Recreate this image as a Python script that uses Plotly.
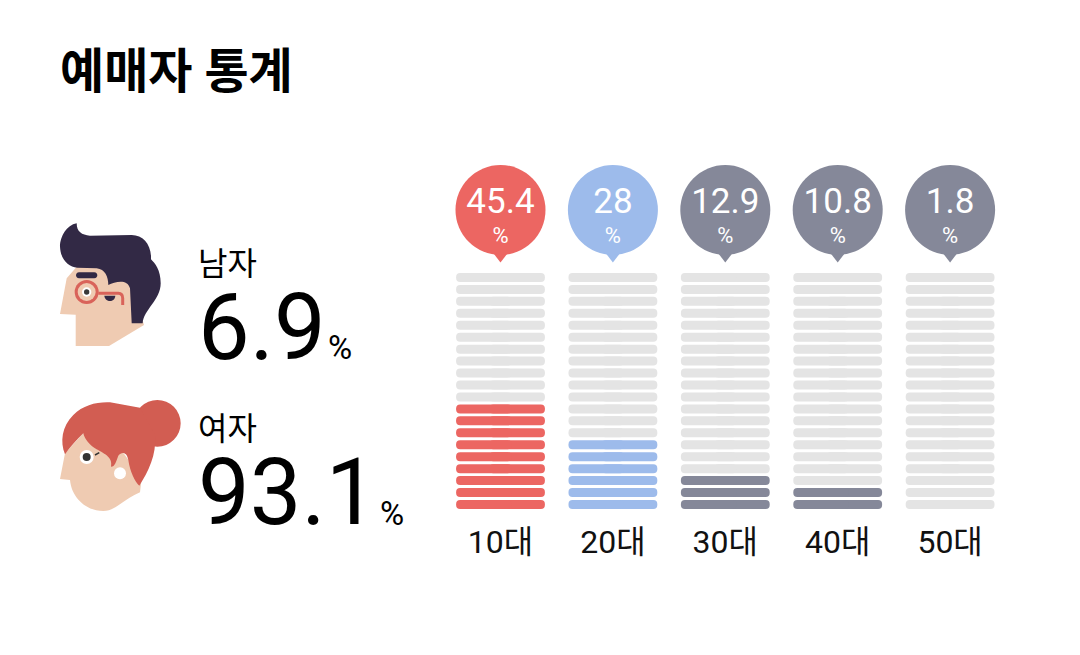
import re
import plotly.graph_objects as go

# ticket buyer stats
title = "예매자 통계"
age_groups = ["10대", "20대", "30대", "40대", "50대"]
age_share = [45.4, 28, 12.9, 10.8, 1.8]
age_colors = ["#EC6662", "#9DBBEB", "#858899", "#858899", "#858899"]
gender_labels = ["남자", "여자"]
gender_share = [6.9, 93.1]

STEP = 5  # one stripe stands for 5%
EMPTY = "#E4E4E4"
FONT = "Roboto, 'Noto Sans CJK KR', sans-serif"
ROW_PX = 11.95  # y axis scale, one stripe row in px
n = len(age_groups)
columns = list(range(n))
rows = list(range(int(100 / STEP)))


def row_at(px):
    """y axis value of a page pixel height"""
    return (504.5 - px) / ROW_PX


fig = go.Figure()

# stripes, each column = two bars that overlap in the middle so both ends get rounded
OVERLAP = 0.1
for col, share, color in zip(columns, age_share, age_colors):
    colors = [color if row < round(share / STEP) else EMPTY for row in rows]
    for sign in (1, -1):
        fig.add_trace(go.Bar(
            orientation="h",
            x=[sign * (0.395 + OVERLAP)] * len(rows),
            y=rows,
            base=[col - sign * OVERLAP] * len(rows),
            width=9 / ROW_PX,
            marker=dict(color=colors, cornerradius=4.5, line_width=0),
            hoverinfo="skip",
        ))

# balloons above the columns
fig.add_trace(go.Scatter(
    x=columns, y=[row_at(255)] * n, mode="markers",
    marker=dict(symbol="triangle-down", size=15, color=age_colors, line_width=0),
    hoverinfo="skip",
))
fig.add_trace(go.Scatter(
    x=columns, y=[row_at(210)] * n, mode="markers",
    marker=dict(size=90, color=age_colors, line_width=0),
    hoverinfo="skip",
))
fig.add_trace(go.Scatter(
    x=columns, y=[row_at(204)] * n, mode="text",
    text=[str(v) for v in age_share],
    textfont=dict(family=FONT, size=35, color="white"),
    hoverinfo="skip",
))
fig.add_trace(go.Scatter(
    x=columns, y=[row_at(237)] * n, mode="text",
    text=["%"] * n,
    textfont=dict(family=FONT, size=22, color="white"),
    hoverinfo="skip",
))


def face_path(x0, y0, d):
    """Turn a path drawn on a 3x crop into page pixels"""
    nums = iter(re.findall(r"[A-Z]|-?[\d.]+", d))
    out = []
    for tok in nums:
        if tok.isalpha():
            out.append(tok)
        else:
            out.append(f"{x0 + float(tok) / 3:.1f},{y0 + float(next(nums)) / 3:.1f}")
    return " ".join(out)


def blob(x0, y0, d, fill):
    return dict(type="path", xref="x2", yref="y2", path=face_path(x0, y0, d),
                fillcolor=fill, line_width=0, layer="above")


def stroke(x0, y0, d, color, width):
    return dict(type="path", xref="x2", yref="y2", path=face_path(x0, y0, d),
                line=dict(color=color, width=width), layer="above")


def dot(x0, y0, cx, cy, r, fill):
    return dict(type="circle", xref="x2", yref="y2",
                x0=x0 + (cx - r) / 3, x1=x0 + (cx + r) / 3,
                y0=y0 + (cy - r) / 3, y1=y0 + (cy + r) / 3,
                fillcolor=fill, line_width=0, layer="above")


SKIN = "#EFCBB2"
DARK = "#322945"
RED = "#D25D52"

shapes = [
    # man
    blob(40, 210, "M 110 170 L 80 205 L 60 312 L 107 314 L 107 408 L 207 408 L 312 345 "
                  "L 275 220 L 200 170 Z", SKIN),
    blob(40, 210, "M 110 40 C 80 45 60 80 60 110 C 62 150 85 170 112 173 L 170 175 "
                  "C 195 178 205 200 205 225 C 225 215 262 205 270 235 L 275 340 L 308 340 "
                  "C 310 300 362 270 362 220 C 362 180 345 160 333 148 C 335 105 310 75 275 75 "
                  "L 150 77 C 125 75 110 65 110 40 Z", DARK),
    blob(40, 210, "M 117 187 L 163 187 C 175 187 175 205 163 205 L 117 205 "
                  "C 105 205 105 187 117 187 Z", DARK),
    blob(40, 210, "M 193 257 L 226 257 C 225 278 195 278 193 257 Z", DARK),
    stroke(40, 210, "M 175 250 L 235 250 C 245 250 248 258 248 265 L 248 285", "#D9635A", 3),
    dot(40, 210, 140, 246, 36, "#D9635A"),
    dot(40, 210, 140, 246, 27, SKIN),
    dot(40, 210, 140, 246, 14, "white"),
    dot(40, 210, 140, 246, 8, "#3A3A3A"),
    # woman
    blob(40, 385, "M 130 145 L 75 205 L 60 282 L 90 285 C 95 340 140 378 190 378 "
                  "C 225 378 240 350 300 322 L 305 280 L 240 190 L 170 185 Z", SKIN),
    dot(40, 385, 352, 115, 70, RED),
    blob(40, 385, "M 75 208 C 60 170 65 125 100 90 C 130 60 170 50 210 52 L 300 68 L 345 150 "
                  "C 350 210 325 260 298 302 C 285 290 270 260 265 225 C 260 200 245 200 235 212 "
                  "C 228 230 225 245 213 245 C 220 215 190 205 165 190 C 150 180 135 165 130 145 "
                  "C 110 165 90 185 75 208 Z", RED),
    dot(40, 385, 140, 216, 21, "white"),
    dot(40, 385, 140, 216, 12, "#333333"),
    stroke(40, 385, "M 165 210 L 178 203", "#333333", 1.5),
    dot(40, 385, 240, 265, 18, "white"),
]

fig.update_layout(
    width=1080, height=655,
    margin=dict(l=0, r=0, t=0, b=0),
    paper_bgcolor="white", plot_bgcolor="rgba(0,0,0,0)",
    barmode="overlay", showlegend=False,
    xaxis=dict(
        domain=[444.3 / 1080, 1006.3 / 1080],
        range=[-0.5, 4.5],
        tickvals=columns, ticktext=age_groups,
        showgrid=False, showline=False, zeroline=False,
        ticks="outside", ticklen=5, tickcolor="rgba(0,0,0,0)",
        tickfont=dict(family=FONT, size=32, color="#111111"),
    ),
    yaxis=dict(
        domain=[1 - 509 / 655, 1 - 150 / 655],
        range=[row_at(509), row_at(150)],
        visible=False,
    ),
    # page pixel axes for the text and drawings on the left
    xaxis2=dict(domain=[0, 1], range=[0, 1080], visible=False, anchor="y2"),
    yaxis2=dict(domain=[0, 1], range=[655, 0], visible=False, anchor="x2"),
    shapes=shapes,
)
# needs a trace on the page axes or they are not drawn
fig.add_trace(go.Scatter(x=[0], y=[0], xaxis="x2", yaxis="y2", mode="none", hoverinfo="skip"))


def note(x, y, text, size, anchor="left", weight=None, color="black"):
    fig.add_annotation(
        x=x, y=y, xref="x2", yref="y2", text=text, showarrow=False,
        xanchor=anchor, yanchor="middle",
        font=dict(family=FONT, size=size, color=color, weight=weight),
    )


note(58, 71, title, 48, weight=700)
note(196, 264, gender_labels[0], 32)
note(196, 429, gender_labels[1], 32)
note(196, 327, str(gender_share[0]), 92)
note(196, 492, str(gender_share[1]), 92)
note(326, 347, "%", 33)
note(378, 513, "%", 33)

fig.write_html("out.html", config=dict(displayModeBar=False),
               post_script="document.body.style.margin='0';")
